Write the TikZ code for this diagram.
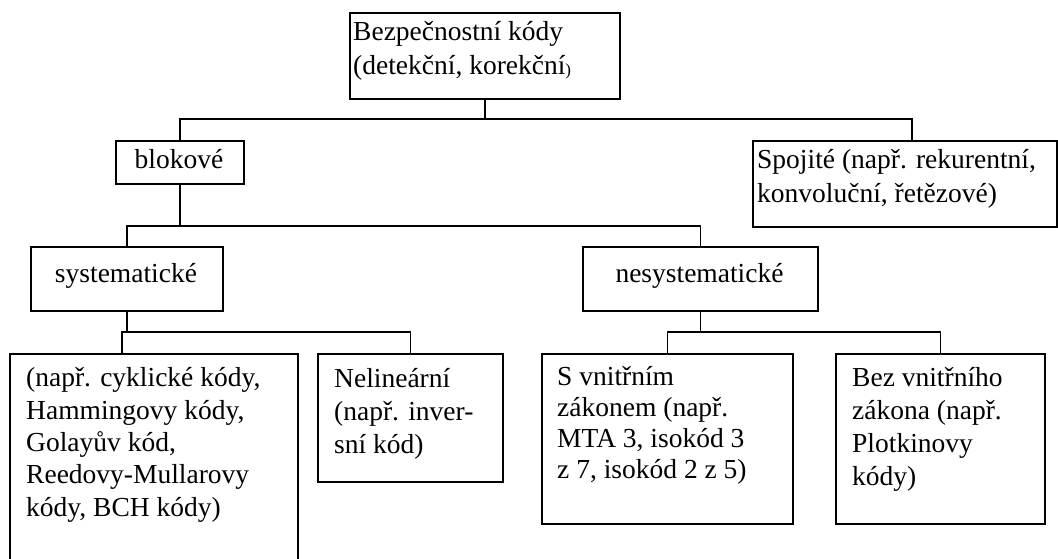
\documentclass[tikz,border=0pt]{standalone}
\usepackage{fontspec}
\setmainfont{Liberation Serif}
\begin{document}
\begin{tikzpicture}[x=1pt,y=-1pt,
  box/.style={draw, line width=1.8pt, anchor=north west, inner sep=0pt},
  conn/.style={line width=1.8pt},
  txt/.style={inner sep=0pt, align=left, anchor=base west},
  ctxt/.style={inner sep=0pt, anchor=base, font=\fontsize{27.5}{32}\selectfont}]
\useasboundingbox (0,0) rectangle (1058,559);
\fill[white] (0,0) rectangle (1058,559);
\clip (0,0) rectangle (1058,559);
% boxes
\node[box, minimum width=270pt, minimum height=86pt] (root) at (349,12) {};
\node[box, minimum width=128pt, minimum height=43pt] (blok) at (115,140) {};
\node[box, minimum width=304pt, minimum height=86pt] (spoj) at (752,140) {};
\node[box, minimum width=192pt, minimum height=64pt] (sys) at (30,246) {};
\node[box, minimum width=235pt, minimum height=64pt] (nesys) at (582,246) {};
\node[box, minimum width=288pt, minimum height=260pt] (lin) at (9,353) {};
\node[box, minimum width=185pt, minimum height=128pt] (nelin) at (317,353) {};
\node[box, minimum width=251pt, minimum height=170pt] (svz) at (541,353) {};
\node[box, minimum width=209pt, minimum height=170pt] (bvz) at (835,353) {};
% texts (anchor = baseline of the last line)
\node[txt, font=\fontsize{27.5}{34}\selectfont] (rootT) at (353,75)
  {Bezpečnostní kódy\\(detekční, korekční\raisebox{-1pt}{\fontsize{17}{17}\selectfont)}};
\node[ctxt] (blokT) at (179,169) {blokové};
\node[txt, font=\fontsize{27.5}{34}\selectfont] (spojT) at (757,202)
  {Spojité (např. rekurentní,\\konvoluční, řetězové)};
\node[ctxt] (sysT) at (126,282) {systematické};
\node[ctxt] (nesysT) at (699.5,282) {nesystematické};
\node[txt, font=\fontsize{27.5}{32.3}\selectfont] (linT) at (26,516)
  {(např. cyklické kódy,\\Hammingovy kódy,\\Golayův kód,\\Reedovy-Mullarovy\\kódy, BCH kódy)};
\node[txt, font=\fontsize{27.5}{33}\selectfont] (nelinT) at (334,453)
  {Nelineární\\(např. inver-\\sní kód)};
\node[txt, font=\fontsize{27.5}{31}\selectfont] (svzT) at (557,478)
  {S vnitřním\\zákonem (např.\\MTA 3, isokód 3\\z 7, isokód 2 z 5)};
\node[txt, font=\fontsize{27.5}{32.7}\selectfont] (bvzT) at (852,485)
  {Bez vnitřního\\zákona (např.\\Plotkinovy\\kódy)};
% buses
\coordinate (bus1) at (0,119);
\coordinate (bus2) at (0,226);
\coordinate (bus3) at (0,332);
\coordinate (spojN) at ([xshift=160pt]spoj.north west);
\coordinate (linN) at ([xshift=113pt]lin.north west);
% connectors
\draw[conn] (root.south) -- (root.south |- bus1);
\draw[conn] (blok.north) -- (blok.north |- bus1) -- (spojN |- bus1) -- (spojN);
\draw[conn] (blok.south) -- (blok.south |- bus2);
\draw[conn] (sys.north) -- (sys.north |- bus2) -- (nesys.north |- bus2) -- (nesys.north);
\draw[conn] (sys.south) -- (sys.south |- bus3);
\draw[conn] (linN) -- (linN |- bus3) -- (nelin.north |- bus3) -- (nelin.north);
\draw[conn] (nesys.south) -- (nesys.south |- bus3);
\draw[conn] (svz.north) -- (svz.north |- bus3) -- (bvz.north |- bus3) -- (bvz.north);
\end{tikzpicture}
\end{document}
